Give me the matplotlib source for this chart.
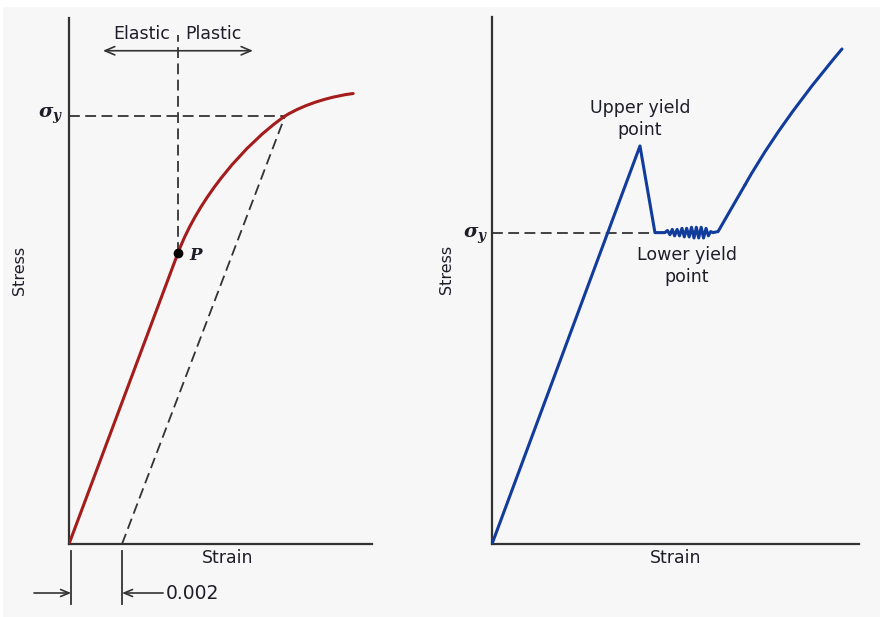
"""
Stress-strain diagrams: 0.2% offset yield (left) and upper/lower yield point (right).
"""

import matplotlib.pyplot as plt
from matplotlib.patches import Rectangle, PathPatch
from matplotlib.path import Path

plt.rcParams['mathtext.fontset'] = 'custom'
plt.rcParams['mathtext.it'] = 'DejaVu Serif:italic:bold'
plt.rcParams['mathtext.rm'] = 'DejaVu Serif:bold'

# Left panel: strain in units of 1e-3, stress in MPa.
# Elastic line origin -> P, then two cubic Bezier pieces (control points) P -> yield -> end
left_strain = [0.0, 4.11, 4.91, 6.65, 8.15, 8.94, 10.01, 10.72]
left_stress = [0.0, 272, 324.5, 374.2, 400, 412.1, 418.9, 421]
p_strain, p_stress = 4.11, 272
sigma_y_left = 400
offset_strain = 2.0          # the 0.002 offset
yield_strain_left = 8.15

# Right panel: strain and stress in arbitrary units
right_strain = [0.0, 10.08, 11.10, 11.78,
                11.95, 12.12, 12.28, 12.44, 12.61, 12.77, 12.94, 13.10, 13.26, 13.43,
                13.59, 13.76, 13.92, 14.08, 14.25, 14.41, 14.58, 14.74, 14.90,
                15.05, 15.40, 17.23]
right_stress = [0.0, 372, 291, 291,
                293, 289, 294, 288, 294, 288, 295, 287, 295, 287,
                296, 286, 296, 286, 296, 286, 295, 288, 292,
                291, 292, 335.5]
# strain hardening part, cubic Bezier control points
harden_strain = [17.23, 19.57, 22.53, 23.84]
harden_stress = [335.5, 392.5, 441.1, 462.6]
sigma_y_right = 291
upper_yield = (10.08, 372)

axis_col = '#333333'
text_col = '#1e1e28'
red = '#a51c1c'
blue = '#123c9c'
dash = (0, (6, 3))

fig = plt.figure(figsize=(8.8, 6.17), dpi=100, facecolor='#f7f7f7')
fig.add_artist(Rectangle((0, 1 - 7 / 617), 1, 7 / 617, transform=fig.transFigure,
                         facecolor='white', edgecolor='none'))
fig.add_artist(Rectangle((0, 0), 2.5 / 880, 1, transform=fig.transFigure,
                         facecolor='white', edgecolor='none'))

ax1 = fig.add_axes([69 / 880, 73 / 617, 303 / 880, 526 / 617])
ax2 = fig.add_axes([492 / 880, 73 / 617, 367 / 880, 527 / 617])

for ax in (ax1, ax2):
    ax.set_facecolor('none')
    for s in ('top', 'right'):
        ax.spines[s].set_visible(False)
    for s in ('left', 'bottom'):
        ax.spines[s].set_color(axis_col)
        ax.spines[s].set_linewidth(1.6)
    ax.set_xticks([])
    ax.set_yticks([])

# ---- left panel ----
ax1.set_xlim(0, 11.43)
ax1.set_ylim(0, 491.6)
codes = [Path.MOVETO, Path.LINETO] + [Path.CURVE4] * 6
curve = Path(list(zip(left_strain, left_stress)), codes)
ax1.add_patch(PathPatch(curve, facecolor='none', edgecolor=red, lw=2.2,
                        capstyle='round', zorder=3))
ax1.plot([offset_strain, yield_strain_left], [0, sigma_y_left], color=axis_col, lw=1.3, ls=dash)
ax1.plot([0, yield_strain_left], [sigma_y_left, sigma_y_left], color=axis_col, lw=1.3, ls=dash)
ax1.plot([p_strain, p_strain], [p_stress, 476], color=axis_col, lw=1.3, ls=dash)
ax1.plot([p_strain], [p_stress], 'o', color='black', ms=6, zorder=4)
ax1.text(4.79, 270, 'P', family='DejaVu Serif', style='italic', weight='bold',
         fontsize=12, color=text_col, ha='center', va='center')
ax1.text(-0.68, sigma_y_left, r'$\sigma_y$', fontsize=14,
         color=text_col, ha='center', va='center')
ax1.text(3.82, 477, 'Elastic', fontsize=12.5, color=text_col, ha='right', va='center')
ax1.text(4.38, 477, 'Plastic', fontsize=12.5, color=text_col, ha='left', va='center')
ax1.annotate('', xy=(1.28, 461), xytext=(6.94, 461),
             arrowprops=dict(arrowstyle='<->,head_length=0.7,head_width=0.3',
                             color=axis_col, lw=1.2, shrinkA=0, shrinkB=0))
ax1.text(0.525, -0.027, 'Strain', transform=ax1.transAxes, fontsize=12.5,
         color=text_col, ha='center', va='center')
ax1.text(-0.162, 0.521, 'Stress', transform=ax1.transAxes, fontsize=11.5,
         color=text_col, ha='center', va='center', rotation=90)

# 0.002 offset dimension below the axis
for xs in (0.08, offset_strain):
    ax1.plot([xs, xs], [-6.5, -56], color=axis_col, lw=1.3, clip_on=False)
ax1.annotate('', xy=(0.08, -45.8), xytext=(-1.32, -45.8), annotation_clip=False,
             arrowprops=dict(arrowstyle='->,head_length=0.6,head_width=0.25',
                             color=axis_col, lw=1.2, shrinkA=0, shrinkB=0))
ax1.annotate('', xy=(offset_strain, -45.8), xytext=(3.55, -45.8), annotation_clip=False,
             arrowprops=dict(arrowstyle='->,head_length=0.6,head_width=0.25',
                             color=axis_col, lw=1.2, shrinkA=0, shrinkB=0))
ax1.text(3.66, -45.8, '0.002', fontsize=13.5, color=text_col, ha='left', va='center')

# ---- right panel ----
ax2.set_xlim(0, 25)
ax2.set_ylim(0, 492.5)
ax2.plot(right_strain, right_stress, color=blue, lw=2.2, solid_capstyle='round',
         solid_joinstyle='round', zorder=3)
harden = Path(list(zip(harden_strain, harden_stress)),
              [Path.MOVETO, Path.CURVE4, Path.CURVE4, Path.CURVE4])
ax2.add_patch(PathPatch(harden, facecolor='none', edgecolor=blue, lw=2.2,
                        capstyle='round', zorder=3))
ax2.plot([0, right_strain[2]], [sigma_y_right, sigma_y_right], color=axis_col, lw=1.3, ls=dash)
ax2.text(-1.09, 288, r'$\sigma_y$', fontsize=14,
         color=text_col, ha='center', va='center')
ax2.text(upper_yield[0], 397, 'Upper yield\npoint', fontsize=12.5, color=text_col,
         ha='center', va='center', linespacing=1.25)
ax2.text(13.28, 260, 'Lower yield\npoint', fontsize=12.5, color=text_col,
         ha='center', va='center', linespacing=1.25)
ax2.text(0.499, -0.027, 'Strain', transform=ax2.transAxes, fontsize=12.5,
         color=text_col, ha='center', va='center')
ax2.text(-0.125, 0.521, 'Stress', transform=ax2.transAxes, fontsize=11.5,
         color=text_col, ha='center', va='center', rotation=90)

fig.savefig('out.png', dpi=100, facecolor=fig.get_facecolor())
